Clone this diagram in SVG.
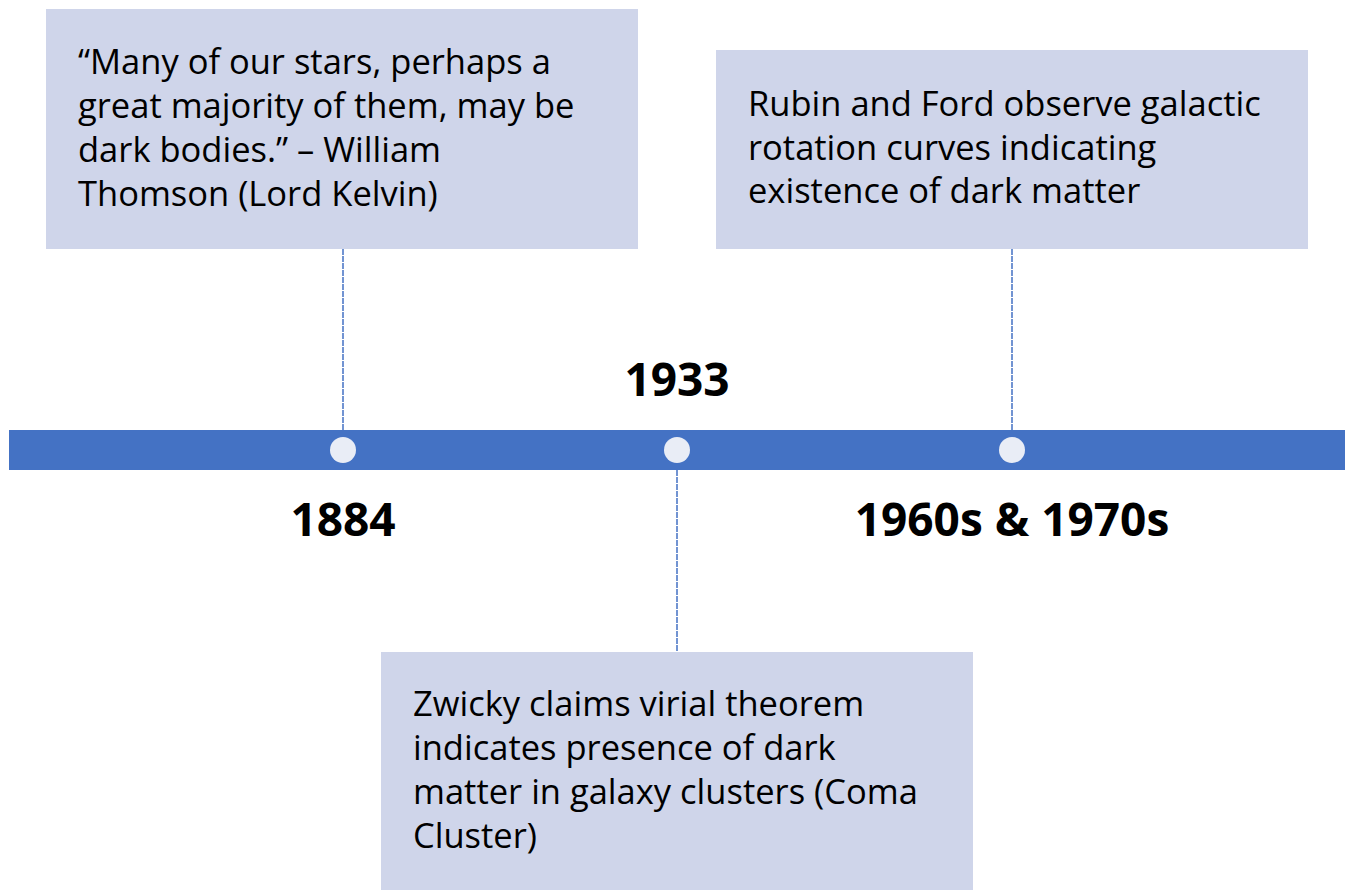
<svg xmlns="http://www.w3.org/2000/svg" width="1345" height="895" viewBox="0 0 1345 895">
<style>
.box{fill:#CFD5EA;}
.t{font-family:"Open Sans","Lato","Liberation Sans",sans-serif;font-size:34.5px;fill:#000;}
.yr{font-family:"Open Sans","Liberation Sans",sans-serif;font-size:46px;font-weight:bold;fill:#000;text-anchor:middle;}
.conn{stroke:#4472C4;stroke-width:1.5;stroke-dasharray:6 1;fill:none;}
.dot{fill:#E9EDF6;}
</style>
<rect width="1345" height="895" fill="#fff"/>
<g id="connectors">
<line class="conn" x1="343" y1="249" x2="343" y2="430"/>
<line class="conn" x1="1012" y1="249" x2="1012" y2="430"/>
<line class="conn" x1="677" y1="470" x2="677" y2="652"/>
</g>
<g id="timeline">
<rect x="9" y="430" width="1336" height="40" fill="#4472C4"/>
<circle class="dot" cx="343" cy="450" r="13"/>
<circle class="dot" cx="677" cy="450" r="13"/>
<circle class="dot" cx="1012" cy="450" r="13"/>
</g>
<g id="year1884"><text class="yr" x="343" y="536">1884</text></g>
<g id="year1933"><text class="yr" x="677" y="396">1933</text></g>
<g id="year1960s"><text class="yr" x="1012" y="536">1960s &amp; 1970s</text></g>
<g id="box-kelvin">
<rect class="box" x="46" y="9" width="592" height="240"/>
<text class="t" x="78" y="74">“Many of our stars, perhaps a</text>
<text class="t" x="78" y="118">great majority of them, may be</text>
<text class="t" x="78" y="162">dark bodies.” – William</text>
<text class="t" x="78" y="206">Thomson (Lord Kelvin)</text>
</g>
<g id="box-rubin">
<rect class="box" x="716" y="50" width="592" height="199"/>
<text class="t" x="748" y="116">Rubin and Ford observe galactic</text>
<text class="t" x="748" y="160">rotation curves indicating</text>
<text class="t" x="748" y="203">existence of dark matter</text>
</g>
<g id="box-zwicky">
<rect class="box" x="381" y="652" width="592" height="238"/>
<text class="t" x="413" y="716">Zwicky claims virial theorem</text>
<text class="t" x="413" y="760">indicates presence of dark</text>
<text class="t" x="413" y="804">matter in galaxy clusters (Coma</text>
<text class="t" x="413" y="848">Cluster)</text>
</g>
</svg>
